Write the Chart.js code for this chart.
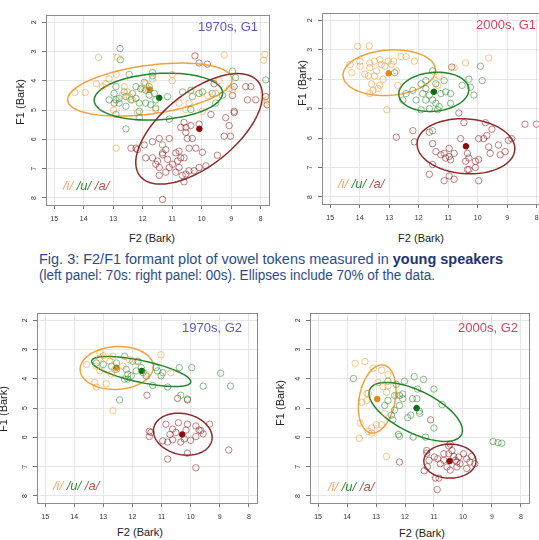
<!DOCTYPE html>
<html>
<head>
<meta charset="utf-8">
<script src="https://cdn.jsdelivr.net/npm/chart.js@4.4.1/dist/chart.umd.min.js"></script>
<style>
  html, body { margin: 0; padding: 0; background: #fff; }
  body { width: 539px; height: 540px; position: relative; overflow: hidden;
         font-family: "Liberation Sans", Arial, sans-serif; }
  canvas { position: absolute; }
  .t { position: absolute; white-space: nowrap; transform: translate(-50%, -50%); }
  .axt { font-size: 11px; color: #222; }
  .rot { transform: translate(-50%, -50%) rotate(-90deg); }
  .ptitle { font-size: 13px; }
  .leg { position: absolute; white-space: nowrap; transform: translateY(-50%);
         font-size: 13px; font-style: italic; }
  .cap { position: absolute; left: 39px; white-space: nowrap; font-size: 14px; line-height: 16px;
         color: #2b4c8c; transform-origin: 0 50%;
         font-family: "Liberation Sans Narrow", "Liberation Sans", Arial, sans-serif; }
  .cap b { color: #1d3470; }
</style>
</head>
<body>

<canvas id="p1" width="258" height="222" style="left:16px;top:5px"></canvas>
<canvas id="p2" width="258" height="223" style="left:292px;top:3px"></canvas>
<canvas id="p3" width="255" height="222" style="left:7px;top:303px"></canvas>
<canvas id="p4" width="254" height="222" style="left:280px;top:303px"></canvas>

<div class="t axt" style="left:152px;top:238px">F2 (Bark)</div>
<div class="t axt rot" style="left:20px;top:102px">F1 (Bark)</div>
<div class="t axt" style="left:421px;top:238px">F2 (Bark)</div>
<div class="t axt rot" style="left:302px;top:83px">F1 (Bark)</div>
<div class="t axt" style="left:140px;top:532px">F2 (Bark)</div>
<div class="t axt rot" style="left:3px;top:409px">F1 (Bark)</div>
<div class="t axt" style="left:422px;top:533px">F2 (Bark)</div>
<div class="t axt rot" style="left:280px;top:403px">F1 (Bark)</div>

<div id="tt1" class="t ptitle" style="left:228px;top:26px;color:#5b5bc0"></div>
<div id="tt2" class="t ptitle" style="left:506px;top:24px;color:#d8435b"></div>
<div id="tt3" class="t ptitle" style="left:212px;top:327px;color:#5b5bc0"></div>
<div id="tt4" class="t ptitle" style="left:488px;top:327px;color:#d8435b"></div>

<div id="lg1" class="leg" style="left:63px;top:185px"></div>
<div id="lg2" class="leg" style="left:338px;top:183px"></div>
<div id="lg3" class="leg" style="left:53px;top:485px"></div>
<div id="lg4" class="leg" style="left:328px;top:486px"></div>

<div id="cap1" class="cap" style="top:251px" data-w="464">Fig. 3: F2/F1 formant plot of vowel tokens measured in <b>young speakers</b></div>
<div id="cap2" class="cap" style="top:267px" data-w="396">(left panel: 70s: right panel: 00s). Ellipses include 70% of the data.</div>

<script>
// axes
const xTicks = [15, 14, 13, 12, 11, 10, 9, 8];
const yTicks = [2, 3, 4, 5, 6, 7, 8];
const xRange = [7.72, 15.28];
const yRange = [1.76, 8.24];

const vowelLabels = ['/i/', '/u/', '/a/'];
const panelTitles = ['1970s, G1', '2000s, G1', '1970s, G2', '2000s, G2'];

// ---- 1970s, G1 : [F2, F1] ----
const p1_i = [[13.5,3.2],[12.86,3.2],[9.24,3.12],[7.86,3.1],[7.9,3.3],[14.3,4.4],[13.95,4.4],[13.57,4.1],
  [13.25,4.1],[13.14,3.94],[12.9,3.78],[12.99,5.0],[12.9,6.3],[12.35,4.65],[12.0,4.3],[11.82,4.27],
  [11.67,3.94],[11.0,3.78],[11.0,4.0],[10.77,4.76],[10.43,4.76],[9.98,5.04],[9.8,4.5],[9.53,4.43],
  [9.07,4.27],[9.41,4.0],[8.96,4.3],[7.83,4.76],[7.78,4.65],[10.54,4.98],[12.18,5.09],[13.36,4.2],
  [12.63,4.2],[12.52,4.38],[11.56,4.98],[10.1,4.43],[12.7,4.5],[12.45,4.55],[11.9,4.1]];
const p1_u = [[12.77,2.9],[12.76,3.28],[12.46,3.78],[11.95,4.05],[11.67,3.72],[11.67,3.83],[12.97,4.43],
  [12.91,4.65],[12.8,4.76],[12.63,4.38],[12.57,4.54],[12.57,4.87],[12.35,4.43],[12.23,4.6],[12.12,4.76],
  [12.12,5.04],[12.12,5.26],[12.23,4.2],[12.07,4.27],[11.9,4.32],[11.78,4.49],[11.61,4.43],[11.9,4.76],
  [11.73,4.82],[11.56,4.65],[11.56,4.93],[12.91,5.15],[12.57,5.64],[12.91,4.2],[13.14,4.65],[12.97,4.76],
  [12.4,4.65],[11.16,4.54],[11.1,5.31],[10.65,4.38],[10.37,4.32],[10.32,4.54],[9.98,4.38],[10.09,4.43],
  [9.64,4.43],[9.53,4.76],[9.3,4.5],[8.96,3.67],[8.85,3.89],[7.83,3.97],[10.37,4.98],[11.33,6.19],
  [11.78,4.2],[12.8,4.6]];
const p1_a = [[10.23,3.15],[10.09,3.39],[9.81,3.43],[9.58,4.1],[8.9,4.2],[8.51,4.2],[8.34,4.2],[7.83,4.54],
  [7.78,4.82],[8.45,4.65],[8.17,4.65],[8.96,4.5],[8.9,5.04],[9.69,5.15],[9.19,5.26],[8.9,5.09],[9.07,5.53],
  [9.24,5.89],[9.02,5.89],[10.09,5.48],[10.37,5.53],[10.54,5.59],[10.71,5.59],[10.6,5.42],[10.49,5.97],
  [10.32,5.97],[9.98,6.44],[9.47,6.54],[10.2,6.3],[11.44,5.97],[11.1,5.97],[11.95,6.19],[12.4,6.3],
  [12.23,6.3],[11.67,6.08],[11.22,6.35],[11.67,6.63],[11.5,6.74],[11.44,6.96],[11.33,6.46],[11.16,6.68],
  [10.99,6.85],[10.82,6.74],[10.71,6.63],[10.6,6.63],[10.88,7.12],[10.66,7.23],[10.43,7.07],[10.6,7.45],
  [10.26,7.07],[10.09,6.96],[9.86,6.9],[11.44,7.23],[11.22,7.12],[11.33,8.05],[11.56,6.85],[11.1,6.96],
  [10.77,6.96],[10.54,7.18],[12.18,6.35],[10.43,6.3],[11.9,6.63],[10.88,6.46],[10.77,6.4],[10.54,5.76],
  [11.33,6.52]];
const p1_means = [[11.76,4.30],[11.44,4.58],[10.08,5.64]];
// [centre F2, centre F1, semi-axis 1, semi-axis 2, angle°]
const p1_ell = [[11.76,4.30,2.81,0.83,7.7],[11.47,4.54,2.18,0.79,3.7],[10.09,5.64,2.57,1.25,39]];

// ---- 2000s, G1 ----
const p2_i = [[14.07,2.88],[13.68,2.87],[14.33,3.5],[14.27,3.78],[13.99,3.56],[13.99,3.39],[13.66,3.45],
  [13.66,3.61],[13.5,3.39],[13.32,3.34],[13.27,3.5],[13.43,3.72],[13.15,3.56],[13.04,3.39],[12.93,3.5],
  [12.85,3.39],[12.76,3.72],[12.6,3.23],[12.43,3.23],[12.15,3.39],[13.71,3.89],[13.6,4.16],[13.66,4.49],
  [13.55,4.38],[13.38,4.32],[13.32,4.21],[13.21,4.0],[12.71,4.21],[13.08,5.04],[9.63,3.28],[10.41,3.45],
  [10.8,3.61],[11.31,3.89],[13.5,3.89],[13.83,3.83],[11.36,4.21]];
const p2_u = [[11.53,3.72],[11.76,4.05],[11.92,4.16],[12.2,4.38],[12.43,4.49],[12.54,4.71],[12.09,4.71],
  [11.76,4.32],[11.64,4.54],[11.76,4.71],[11.53,4.71],[11.42,4.82],[11.25,4.49],[11.09,4.43],[10.92,4.49],
  [11.64,5.0],[11.92,5.04],[11.31,4.93],[10.3,4.0],[10.25,4.27],[10.13,4.54],[9.85,4.05],[9.91,3.56],
  [11.42,4.16],[11.14,4.05],[12.82,3.78],[11.87,4.49],[11.36,5.04],[10.92,4.82],[10.53,4.21],[11.53,5.75]];
const p2_a = [[10.88,3.59],[10.64,5.15],[11.64,5.8],[11.53,6.19],[11.42,6.46],[11.25,6.57],[11.14,6.52],
  [10.97,6.35],[10.92,6.74],[10.8,6.52],[10.97,6.63],[11.09,6.68],[10.97,7.29],[10.8,7.4],[11.64,7.23],
  [10.41,6.79],[10.3,6.68],[10.35,6.52],[10.08,6.79],[10.08,7.0],[9.97,6.73],[10.3,7.07],[9.97,6.02],
  [9.8,6.02],[9.69,5.91],[9.63,6.3],[9.58,6.52],[9.3,6.24],[9.24,6.57],[8.96,6.08],[8.85,6.02],[8.4,5.53],
  [8.01,5.53],[9.74,5.48],[10.47,5.48],[9.97,7.45],[10.35,7.07],[12.76,5.97],[12.2,5.75],[12.15,6.13],
  [11.53,6.9],[11.14,7.45],[9.52,5.7],[9.07,6.46],[10.58,6.02]];
const p2_means = [[13.02,3.80],[11.49,4.43],[10.40,6.28]];
const p2_ell = [[13.0,3.78,1.57,0.77,4],[11.49,4.43,1.19,0.66,5],[10.4,6.28,1.66,0.93,-4]];

// ---- 1970s, G2 ----
const p3_i = [[13.12,3.12],[13.12,3.29],[13.0,3.21],[12.67,3.23],[12.78,3.4],[13.58,3.51],[13.24,3.57],
  [13.29,4.12],[13.24,4.28],[12.9,4.17],[12.61,3.68],[12.33,3.57],[12.1,3.35],[11.02,3.18],[10.68,3.79],
  [12.67,5.09],[11.87,3.4],[13.12,3.73],[12.72,3.84],[11.53,3.84]];
const p3_u = [[13.24,3.46],[13.0,3.51],[12.72,3.57],[12.55,3.46],[12.27,3.23],[11.99,3.4],[11.81,3.4],
  [12.21,3.68],[12.16,3.84],[12.16,4.01],[12.27,4.01],[11.87,3.73],[11.7,3.62],[11.64,3.79],[11.19,3.62],
  [11.14,3.73],[10.96,3.79],[11.02,3.9],[11.3,4.23],[10.79,4.28],[10.39,3.62],[9.96,3.62],[10.34,4.56],
  [10.11,4.69],[9.57,4.25],[8.97,3.81],[8.63,4.25],[12.44,4.72],[12.55,3.68],[12.04,3.9],[11.53,3.9]];
const p3_a = [[11.5,4.56],[10.45,4.67],[10.11,4.72],[11.42,5.79],[11.42,5.97],[11.36,5.83],[10.85,5.55],
  [10.42,5.5],[10.11,5.55],[9.82,5.61],[9.71,5.75],[9.57,5.88],[9.35,5.55],[10.71,5.9],[10.96,6.12],
  [10.79,6.16],[10.62,6.08],[10.34,6.16],[10.22,6.05],[10.0,6.1],[9.82,5.97],[9.65,5.77],[10.16,5.75],
  [10.11,6.54],[10.79,6.74],[9.82,7.04],[8.69,6.43],[10.51,5.83],[10.62,5.72]];
const p3_means = [[12.55,3.62],[11.68,3.73],[10.29,5.90]];
const p3_ell = [[12.54,3.63,1.26,0.73,3],[11.7,3.75,1.74,0.37,-12],[10.27,5.89,1.02,0.7,-12]];

// ---- 2000s, G2 ----
const p4_i = [[13.72,3.47],[13.38,3.41],[13.1,3.64],[12.81,3.71],[12.59,3.86],[12.93,4.13],[12.76,4.27],
  [12.59,4.24],[13.32,4.5],[13.27,4.5],[13.32,4.74],[13.49,4.8],[13.55,5.51],[13.58,6.03],[13.15,5.68],
  [12.81,5.57],[12.7,5.18],[12.64,4.46],[12.3,4.57],[12.64,6.65],[13.15,5.85],[12.98,5.57],[13.27,5.79]];
const p4_u = [[13.78,3.99],[12.3,4.19],[12.36,4.57],[12.19,4.57],[12.08,4.68],[12.08,4.52],[12.02,4.08],
  [11.68,3.93],[11.36,4.02],[11.57,4.35],[11.59,4.68],[11.74,4.68],[11.51,5.1],[11.8,5.24],[11.49,5.18],
  [11.91,5.33],[12.19,4.91],[12.36,5.07],[12.47,5.24],[12.7,4.91],[12.59,4.74],[12.23,5.9],[12.19,5.96],
  [11.72,5.99],[11.29,5.99],[11.0,5.68],[11.0,4.35],[10.72,4.88],[8.96,6.14],[8.79,6.18],[8.66,6.2],
  [12.42,5.4],[12.59,4.08]];
const p4_a = [[11.12,5.4],[11.25,6.45],[11.17,6.78],[11.34,7.14],[10.99,6.67],[10.87,6.73],[10.78,6.9],
  [10.83,7.39],[10.89,7.78],[10.66,6.56],[10.49,6.29],[10.32,6.65],[10.26,6.78],[10.15,6.67],[10.1,6.9],
  [10.21,7.01],[9.98,6.56],[9.87,6.73],[9.76,6.84],[9.7,6.65],[9.59,6.9],[9.87,7.06],[10.21,6.84],
  [10.55,7.01],[10.44,7.12],[10.66,6.78],[10.38,6.45],[10.44,6.23],[12.19,6.84],[11.25,6.54],[10.95,7.39],
  [11.23,7.0],[10.49,6.56]];
const p4_means = [[12.96,4.69],[11.60,5.00],[10.46,6.81]];
const p4_ell = [[12.96,4.69,1.18,0.62,79],[11.63,5.13,1.76,0.72,-26],[10.45,6.81,0.9,0.58,0]];

const tokenColors = ['rgba(242,150,40,0.55)', 'rgba(40,135,40,0.55)', 'rgba(140,30,30,0.55)'];
const ellipseColors = ['#f2a23a', '#23852b', '#8e2a2a'];
const meanColors = ['#e08a14', '#0b6b12', '#8b0a0a'];
const legendColors = ['#f3a865', '#2f8a35', '#b5544f'];

const toPts = arr => arr.map(([x, y]) => ({ x, y }));

// ellipses are drawn right after the last token dataset, so the means stay on top
function ellipsePlugin(list) {
  return {
    id: 'ellipses',
    afterDatasetDraw(chart, args) {
      if (args.index !== 2) return;
      const { ctx, chartArea: a, scales: { x, y } } = chart;
      ctx.save();
      ctx.beginPath();
      ctx.rect(a.left, a.top, a.width, a.height);
      ctx.clip();
      list.forEach(([cx, cy, rx, ry, deg], k) => {
        const th = deg * Math.PI / 180;
        ctx.beginPath();
        for (let s = 0; s <= 120; s++) {
          const t = s / 120 * 2 * Math.PI;
          const dx = rx * Math.cos(t), dy = ry * Math.sin(t);
          const px = x.getPixelForValue(cx + dx * Math.cos(th) - dy * Math.sin(th));
          const py = y.getPixelForValue(cy + dx * Math.sin(th) + dy * Math.cos(th));
          if (s === 0) ctx.moveTo(px, py); else ctx.lineTo(px, py);
        }
        ctx.closePath();
        ctx.strokeStyle = ellipseColors[k];
        ctx.lineWidth = 1.5;
        ctx.stroke();
      });
      ctx.restore();
    }
  };
}

const boxPlugin = {
  id: 'box',
  afterDraw(chart) {
    const { ctx, chartArea: a } = chart;
    ctx.save();
    ctx.strokeStyle = '#8c8c8c';
    ctx.lineWidth = 1;
    ctx.strokeRect(Math.round(a.left) + 0.5, Math.round(a.top) + 0.5,
                   Math.round(a.width), Math.round(a.height));
    ctx.restore();
  }
};

function makePanel(id, tokens, means, ellipses) {
  const datasets = tokens.map((arr, k) => ({
    data: toPts(arr),
    pointStyle: 'circle',
    pointRadius: 3.2,
    pointBorderWidth: 1,
    pointBackgroundColor: 'rgba(0,0,0,0)',
    pointBorderColor: tokenColors[k],
    showLine: false
  }));
  datasets.push({
    data: toPts(means),
    pointRadius: 2.8,
    pointBorderWidth: 1,
    pointBackgroundColor: meanColors,
    pointBorderColor: meanColors,
    showLine: false
  });

  const tickFont = { size: 7, family: 'Liberation Sans' };
  new Chart(document.getElementById(id), {
    type: 'scatter',
    data: { datasets },
    options: {
      responsive: false,
      animation: false,
      devicePixelRatio: 1,
      layout: { padding: { top: 4, right: 4, left: 0, bottom: 0 } },
      plugins: { legend: { display: false }, tooltip: { enabled: false } },
      scales: {
        x: {
          type: 'linear', reverse: true, min: xRange[0], max: xRange[1],
          afterBuildTicks: s => { s.ticks = xTicks.map(v => ({ value: v })); },
          afterFit: s => { s.height = 22; },
          grid: { color: '#e6e6e6', tickColor: '#777', tickLength: 4 },
          border: { display: false },
          ticks: { font: tickFont, color: '#333', padding: 6, autoSkip: false, maxRotation: 0 }
        },
        y: {
          type: 'linear', reverse: true, min: yRange[0], max: yRange[1],
          afterBuildTicks: s => { s.ticks = yTicks.map(v => ({ value: v })); },
          afterFit: s => { s.width = 30; },
          grid: { color: '#e6e6e6', tickColor: '#777', tickLength: 4 },
          border: { display: false },
          ticks: { font: tickFont, color: '#333', padding: 6, autoSkip: false,
                   minRotation: 90, maxRotation: 90, crossAlign: 'center' }
        }
      }
    },
    plugins: [ellipsePlugin(ellipses), boxPlugin]
  });
}

makePanel('p1', [p1_i, p1_u, p1_a], p1_means, p1_ell);
makePanel('p2', [p2_i, p2_u, p2_a], p2_means, p2_ell);
makePanel('p3', [p3_i, p3_u, p3_a], p3_means, p3_ell);
makePanel('p4', [p4_i, p4_u, p4_a], p4_means, p4_ell);

// titles and vowel legends
panelTitles.forEach((txt, i) => {
  document.getElementById('tt' + (i + 1)).textContent = txt;
  document.getElementById('lg' + (i + 1)).innerHTML =
    vowelLabels.map((v, k) => `<span style="color:${legendColors[k]}">${v}</span>`).join(' ');
});

// squeeze caption lines to the width of the condensed original
document.querySelectorAll('.cap').forEach(el => {
  const w = el.getBoundingClientRect().width;
  el.style.transform = `scaleX(${(+el.dataset.w / w).toFixed(4)})`;
});
</script>
</body>
</html>
